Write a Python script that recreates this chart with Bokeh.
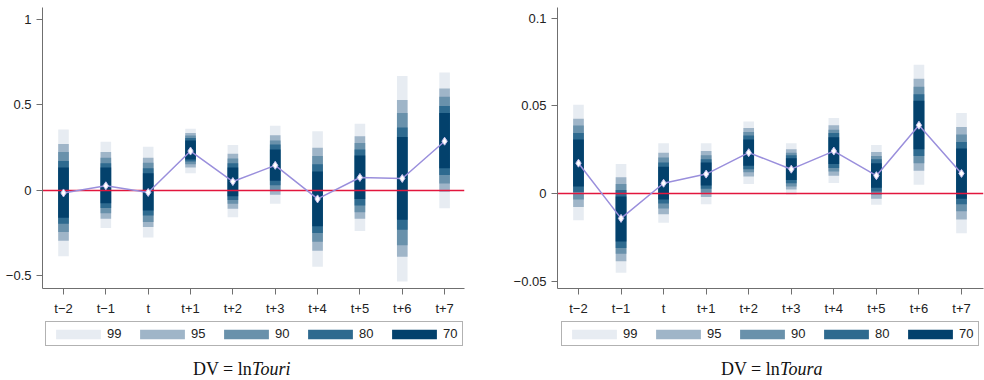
from bokeh.plotting import figure
from bokeh.layouts import row, column
from bokeh.models import (ColumnDataSource, FixedTicker, Legend, LegendItem, Label, Range1d)
from bokeh.embed import file_html
from bokeh.resources import INLINE

# ---------------- data ----------------
periods = ["t\u22122", "t\u22121", "t", "t+1", "t+2", "t+3", "t+4", "t+5", "t+6", "t+7"]
levels = ["99", "95", "90", "80", "70"]

# Left panel: DV = ln Touri
touri_coef = [-0.017, 0.025, -0.014, 0.229, 0.050, 0.145, -0.052, 0.074, 0.068, 0.287]
touri_lo99 = [-0.388, -0.223, -0.279, 0.099, -0.159, -0.081, -0.450, -0.240, -0.537, -0.107]
touri_hi99 = [0.355, 0.283, 0.254, 0.360, 0.264, 0.378, 0.345, 0.390, 0.670, 0.690]
touri_lo95 = [-0.298, -0.169, -0.217, 0.132, -0.110, -0.027, -0.357, -0.169, -0.391, -0.010]
touri_hi95 = [0.271, 0.223, 0.190, 0.335, 0.213, 0.322, 0.248, 0.316, 0.529, 0.597]
touri_lo90 = [-0.246, -0.136, -0.188, 0.151, -0.081, 0.000, -0.304, -0.130, -0.324, 0.039]
touri_hi90 = [0.223, 0.190, 0.161, 0.320, 0.186, 0.291, 0.200, 0.277, 0.452, 0.548]
touri_lo80 = [-0.198, -0.105, -0.149, 0.167, -0.058, 0.029, -0.252, -0.091, -0.233, 0.089]
touri_hi80 = [0.171, 0.157, 0.128, 0.306, 0.157, 0.267, 0.151, 0.238, 0.368, 0.494]
touri_lo70 = [-0.163, -0.078, -0.120, 0.180, -0.037, 0.054, -0.213, -0.052, -0.174, 0.128]
touri_hi70 = [0.132, 0.132, 0.099, 0.291, 0.132, 0.238, 0.109, 0.203, 0.312, 0.452]

# Right panel: DV = ln Toura
toura_coef = [0.0174, -0.0140, 0.0060, 0.0112, 0.0234, 0.0140, 0.0243, 0.0103, 0.0390, 0.0116]
toura_lo99 = [-0.0150, -0.0450, -0.0165, -0.0060, 0.0056, -0.0006, 0.0062, -0.0062, 0.0051, -0.0225]
toura_hi99 = [0.0506, 0.0169, 0.0287, 0.0287, 0.0412, 0.0287, 0.0431, 0.0277, 0.0734, 0.0459]
toura_lo95 = [-0.0075, -0.0384, -0.0116, -0.0019, 0.0099, 0.0024, 0.0103, -0.0028, 0.0131, -0.0146]
toura_hi95 = [0.0427, 0.0094, 0.0234, 0.0243, 0.0375, 0.0253, 0.0390, 0.0238, 0.0655, 0.0380]
toura_lo90 = [-0.0032, -0.0341, -0.0084, 0.0006, 0.0122, 0.0041, 0.0127, -0.0006, 0.0174, -0.0099]
toura_hi90 = [0.0388, 0.0056, 0.0206, 0.0219, 0.0352, 0.0234, 0.0365, 0.0215, 0.0609, 0.0337]
toura_lo80 = [0.0010, -0.0309, -0.0056, 0.0028, 0.0140, 0.0060, 0.0146, 0.0013, 0.0215, -0.0060]
toura_hi80 = [0.0346, 0.0022, 0.0178, 0.0197, 0.0331, 0.0219, 0.0346, 0.0197, 0.0566, 0.0294]
toura_lo70 = [0.0041, -0.0272, -0.0032, 0.0047, 0.0159, 0.0079, 0.0169, 0.0034, 0.0253, -0.0028]
toura_hi70 = [0.0309, -0.0015, 0.0154, 0.0178, 0.0309, 0.0202, 0.0322, 0.0174, 0.0530, 0.0257]

touri_yticks = [-0.5, 0, 0.5, 1]
touri_ylabels = ["\u22120.5", "0", "0.5", "1"]
toura_yticks = [-0.05, 0, 0.05, 0.1]
toura_ylabels = ["\u22120.05", "0", "0.05", "0.1"]

# ---------------- style ----------------
level_colors = ["#e7ecf2", "#9fb5c8", "#6991ab", "#2e6a8f", "#03416c"]
AX = "#6f6f6f"
TXT = "#222222"
SANS = "Liberation Sans"
SERIF = "Liberation Serif"
TOP_H = 318
BOT_H = 62


def make_panel(coef, lows, highs, yr, yticks, ylabels, width, bl, br, xr):
    xs = list(range(len(periods)))
    p = figure(width=width, height=TOP_H, output_backend="svg", toolbar_location=None,
               x_range=Range1d(*xr), y_range=Range1d(*yr),
               min_border_left=bl, min_border_right=br, min_border_top=7,
               min_border_bottom=25)
    p.outline_line_color = None
    p.grid.visible = False
    p.background_fill_color = "white"
    p.border_fill_color = "white"

    for col, lo, hi in zip(level_colors, lows, highs):
        src = ColumnDataSource(dict(x=xs, top=hi, bottom=lo))
        p.vbar(x="x", top="top", bottom="bottom", width=0.25, source=src,
               fill_color=col, line_color=None)

    p.hspan(y=[0], line_color="#e2163d", line_width=1.5)
    p.line(xs, coef, line_color="#9a8fdc", line_width=1.5)
    p.scatter(xs, coef, marker="diamond", size=8, fill_color="white",
              line_color="#c9c2ee", line_width=1)

    for ax in (p.xaxis[0], p.yaxis[0]):
        ax.axis_line_color = AX
        ax.major_tick_line_color = AX
        ax.major_tick_out = 6
        ax.major_tick_in = 0
        ax.minor_tick_line_color = None
        ax.major_label_text_font = SANS
        ax.major_label_text_font_size = "13px"
        ax.major_label_text_color = TXT
    p.xaxis.ticker = FixedTicker(ticks=xs)
    p.xaxis.major_label_overrides = {i: lab for i, lab in enumerate(periods)}
    p.xaxis.major_label_standoff = 6
    p.yaxis.ticker = FixedTicker(ticks=yticks)
    p.yaxis.major_label_overrides = {t: lab for t, lab in zip(yticks, ylabels)}
    p.yaxis.major_label_standoff = 5
    return p


def make_footer(width, leg_x, cap_a, cap_b, cap_x):
    f = figure(width=width, height=BOT_H, output_backend="svg", toolbar_location=None,
               x_range=Range1d(0, 1), y_range=Range1d(0, 1),
               x_axis_type=None, y_axis_type=None,
               min_border_left=0, min_border_right=0, min_border_top=0,
               min_border_bottom=0)
    f.outline_line_color = None
    f.grid.visible = False
    f.background_fill_color = "white"
    f.border_fill_color = "white"
    items = []
    for lvl, col in zip(levels, level_colors):
        # legend key only: a single bar placed outside the visible range
        r = f.vbar(x=[5], top=[6], bottom=[5], width=0.1, fill_color=col, line_color=None)
        items.append(LegendItem(label=lvl, renderers=[r]))
    leg = Legend(items=items, orientation="horizontal", location=(leg_x, 34),
                 border_line_color="#666666", border_line_width=1,
                 background_fill_color="white", background_fill_alpha=1,
                 glyph_width=56, glyph_height=12, label_width=15, label_height=10,
                 label_standoff=1, spacing=12, padding=4, margin=0,
                 label_text_font=SANS, label_text_font_size="13px",
                 label_text_color=TXT)
    f.add_layout(leg)
    f.add_layout(Label(x=cap_x, y=12, x_units="screen", y_units="screen",
                       text=cap_a, text_align="right", text_baseline="middle",
                       text_font=SERIF, text_font_size="18px", text_color="#111111"))
    f.add_layout(Label(x=cap_x, y=12, x_units="screen", y_units="screen",
                       text=cap_b, text_align="left", text_baseline="middle",
                       text_font=SERIF, text_font_style="italic",
                       text_font_size="18px", text_color="#111111"))
    return f


p1 = make_panel(touri_coef,
                [touri_lo99, touri_lo95, touri_lo90, touri_lo80, touri_lo70],
                [touri_hi99, touri_hi95, touri_hi90, touri_hi80, touri_hi70],
                (-0.578, 1.072), touri_yticks, touri_ylabels,
                490, 42, 26, (-0.496, 9.47))
p2 = make_panel(toura_coef,
                [toura_lo99, toura_lo95, toura_lo90, toura_lo80, toura_lo70],
                [toura_hi99, toura_hi95, toura_hi90, toura_hi80, toura_hi70],
                (-0.0539, 0.106), toura_yticks, toura_ylabels,
                494, 67, 1, (-0.493, 9.517))
f1 = make_footer(490, 45, "DV = ln", "Touri", 251.6)
f2 = make_footer(494, 71, "DV = ln", "Toura", 289.6)

layout = column(row(p1, p2), row(f1, f2))
open("out.html", "w").write(file_html(layout, INLINE))
